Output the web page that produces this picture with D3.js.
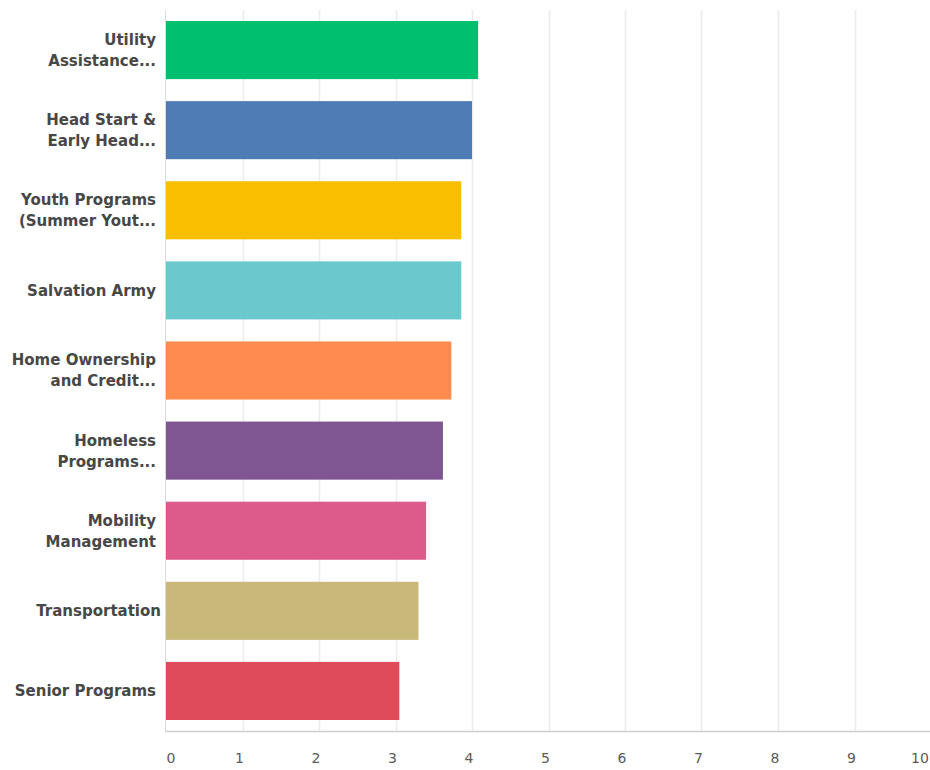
<!DOCTYPE html>
<html><head><meta charset="utf-8">
<script src="https://cdn.jsdelivr.net/npm/d3@7"></script>
<style>
html,body{margin:0;padding:0;background:#fff;}
svg{display:block;}
</style></head>
<body><svg id="chart" width="930" height="770"></svg>
<script>
const categories = [
  ["Utility", "Assistance..."],
  ["Head Start &", "Early Head..."],
  ["Youth Programs", "(Summer Yout..."],
  ["Salvation Army"],
  ["Home Ownership", "and Credit..."],
  ["Homeless", "Programs..."],
  ["Mobility", "Management"],
  ["Transportation"],
  ["Senior Programs"]
];
const values = [4.08, 4.0, 3.86, 3.86, 3.73, 3.62, 3.4, 3.3, 3.05];
const colors = ["#00BF6F", "#507CB6", "#F9BE00", "#6BC8CD", "#FF8B4F", "#7F5691", "#DC5B8A", "#C8B87A", "#E04B5C"];
const tickValues = [0,1,2,3,4,5,6,7,8,9,10];

(function(){
const svg = d3.select("#chart");
const mLeft = 166, mRight = 931, mTop = 10, mBottom = 731;
const x = d3.scaleLinear().domain([0, 10]).range([mLeft, mRight]);
const keys = categories.map((c, i) => i);
const y = d3.scaleBand().domain(keys).range([mTop, mBottom]).paddingInner(0.275).paddingOuter(0.1375);

svg.append("g").selectAll("line").data(tickValues.slice(1)).join("line")
  .attr("x1", d => Math.round(x(d)) + 0.5).attr("x2", d => Math.round(x(d)) + 0.5)
  .attr("y1", mTop).attr("y2", mBottom)
  .attr("stroke", "#ececec").attr("stroke-width", 1.5);

svg.append("line").attr("x1", mLeft - 0.5).attr("x2", mLeft - 0.5).attr("y1", mTop).attr("y2", mBottom)
  .attr("stroke", "#dcdcdc").attr("stroke-width", 1);

svg.append("g").selectAll("rect").data(values).join("rect")
  .attr("x", x(0))
  .attr("y", (d, i) => y(i))
  .attr("width", d => x(d) - x(0))
  .attr("height", y.bandwidth())
  .attr("fill", (d, i) => colors[i]);

svg.append("line").attr("x1", mLeft - 1).attr("x2", mRight).attr("y1", mBottom + 0.5).attr("y2", mBottom + 0.5)
  .attr("stroke", "#cfcfcf").attr("stroke-width", 1.5);

const lab = svg.append("g").attr("font-family", "'DejaVu Sans', sans-serif").attr("font-size", 15)
  .attr("font-weight", "bold").attr("fill", "#474747");
categories.forEach((lines, i) => {
  const cy = y(i) + y.bandwidth() / 2;
  const lh = 21;
  const t = lab.append("text").attr("text-anchor", "end").attr("x", 156);
  lines.forEach((ln, j) => {
    t.append("tspan").attr("x", ln === "Transportation" ? 161 : 156)
      .attr("y", cy + (j - (lines.length - 1) / 2) * lh)
      .attr("dy", "0.36em").text(ln);
  });
});

svg.append("g").attr("font-family", "'DejaVu Sans', sans-serif").attr("font-size", 14)
  .attr("fill", "#5a5a5a").selectAll("text").data(tickValues).join("text")
  .attr("x", d => d === 0 ? x(d) + 5 : d === 10 ? x(d) - 11 : x(d) - 3)
  .attr("y", 758).attr("dy", "0.36em").attr("text-anchor", "middle")
  .text(d => d);
})();
</script></body></html>
